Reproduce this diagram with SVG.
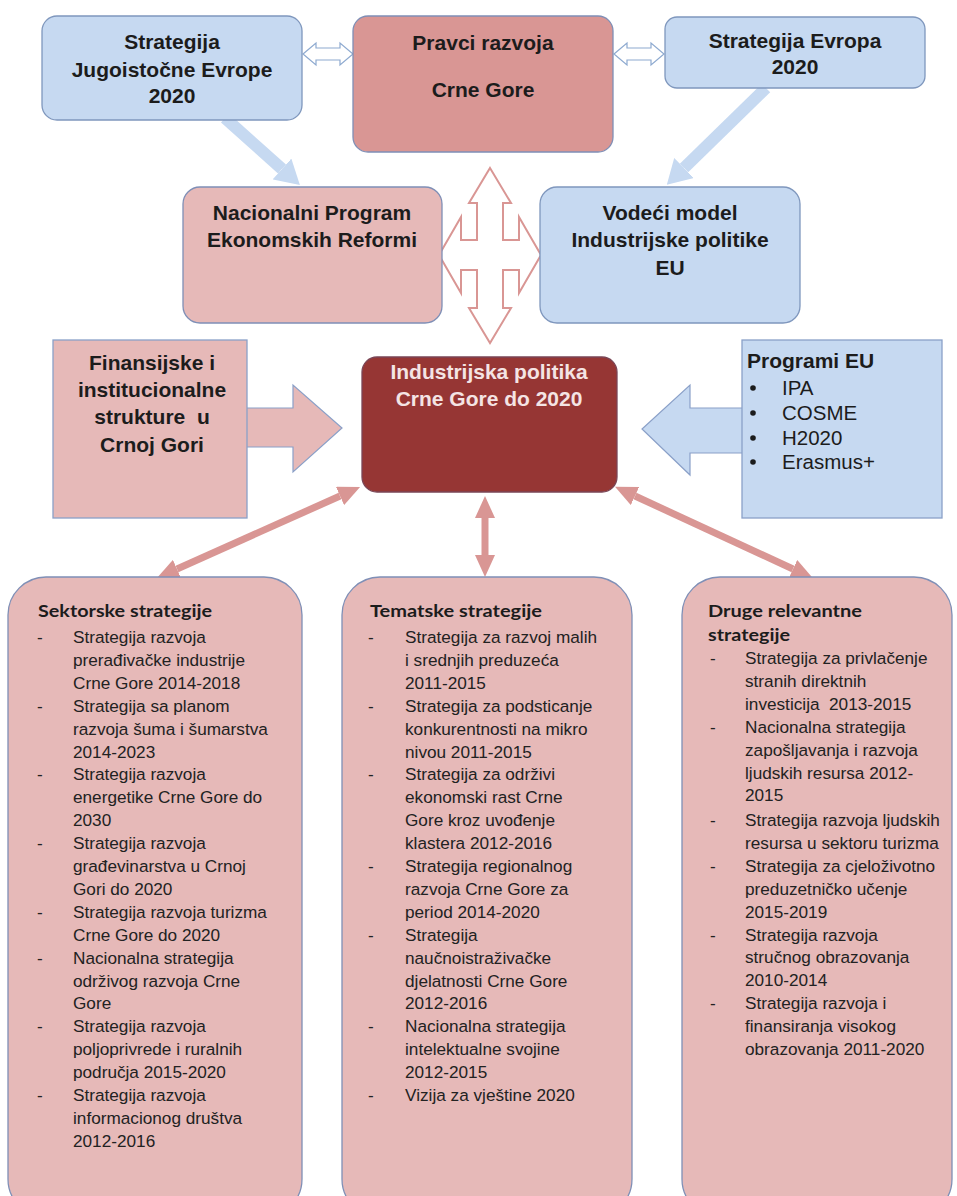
<svg xmlns="http://www.w3.org/2000/svg" width="957" height="1196" viewBox="0 0 957 1196">
<defs>
<style>
.blue{fill:#c6d9f1;stroke:#7f97bd;stroke-width:1.3}
.pink{fill:#e6b9b8;stroke:#7f8fb6;stroke-width:1.3}
.pinkdk{fill:#d99694;stroke:#7f8fb6;stroke-width:1.3}
.red{fill:#963634;stroke:#7a4656;stroke-width:1.3}
.h{font-family:"Liberation Sans",Arial,sans-serif;font-weight:bold;font-size:21px;fill:#1c1c1c;text-anchor:middle}
.hw{fill:#f4e4e4}
.pl{font-family:"Liberation Sans",Arial,sans-serif;font-size:20.5px;fill:#1c1c1c}
.li{font-family:"Liberation Sans",Arial,sans-serif;font-size:17.2px;fill:#222}
.t{font-family:Lato,"Liberation Sans",sans-serif;font-weight:bold;font-size:17.5px;fill:#1c1c1c}
.conn{stroke:#d99694;stroke-width:7;fill:none}
.bl{stroke:#c6d9f1;stroke-width:12;fill:none}
.hollowb{fill:#fff;stroke:#8eaad0;stroke-width:1.2}
.hollowp{fill:#fff;stroke:#d99694;stroke-width:2}
.blk-p{fill:#e6b9b8;stroke:#8aa0c8;stroke-width:1.2}
.blk-b{fill:#c6d9f1;stroke:#8aa0c8;stroke-width:1.2}
</style>
<marker id="ah" markerUnits="userSpaceOnUse" markerWidth="22" markerHeight="20" viewBox="0 0 22 20" refX="0" refY="10" orient="auto-start-reverse">
<path d="M0,0 L22,10 L0,20 Z" fill="#d99694"/>
</marker>
<marker id="bh" markerUnits="userSpaceOnUse" markerWidth="24" markerHeight="28" viewBox="0 0 24 28" refX="0" refY="14" orient="auto">
<path d="M0,0 L24,14 L0,28 Z" fill="#c6d9f1"/>
</marker>
</defs>
<rect width="957" height="1196" fill="#fff"/>

<g id="connectors">
<polygon class="hollowb" points="303,54 316,43 316,48 340,48 340,43 353,54 340,65 340,60 316,60 316,65"/>
<polygon class="hollowb" points="614,54 627,43 627,48 651,48 651,43 664,54 651,65 651,60 627,60 627,65"/>
<line class="bl" x1="225" y1="118" x2="282" y2="169" marker-end="url(#bh)"/>
<line class="bl" x1="766" y1="88" x2="684" y2="168" marker-end="url(#bh)"/>
<polygon class="hollowp" points="490,168 511,203 503,203 503,240 519,240 519,217 541,255 519,293 519,270 503,270 503,308 511,308 490,343 469,308 477,308 477,270 461,270 461,293 439,255 461,217 461,240 477,240 477,203 469,203"/>
<polygon class="blk-p" points="240,408 293,408 293,385 342,428 293,472 293,447 240,447"/>
<polygon class="blk-b" points="750,408 690,408 690,385 642,429 690,475 690,453 750,453"/>
<line class="conn" x1="340" y1="496" x2="177" y2="569" marker-start="url(#ah)" marker-end="url(#ah)"/>
<line class="conn" x1="485" y1="518" x2="485" y2="555" marker-start="url(#ah)" marker-end="url(#ah)"/>
<line class="conn" x1="635" y1="496" x2="793" y2="569" marker-start="url(#ah)" marker-end="url(#ah)"/>
</g>

<g id="n-jugoistocna">
<rect class="blue" x="42" y="16" width="260" height="104" rx="15"/>
<text class="h" x="172" y="49">Strategija</text>
<text class="h" x="172" y="77">Jugoistočne Evrope</text>
<text class="h" x="172" y="103">2020</text>
</g>

<g id="n-pravci">
<rect class="pinkdk" x="353" y="16" width="260" height="136" rx="15"/>
<text class="h" x="483" y="50">Pravci razvoja</text>
<text class="h" x="483" y="97">Crne Gore</text>
</g>

<g id="n-evropa">
<rect class="blue" x="665" y="17" width="260" height="71" rx="12"/>
<text class="h" x="795" y="48">Strategija Evropa</text>
<text class="h" x="795" y="74">2020</text>
</g>

<g id="n-nacionalni">
<rect class="pink" x="183" y="187" width="259" height="136" rx="17"/>
<text class="h" x="312" y="220">Nacionalni Program</text>
<text class="h" x="312" y="247">Ekonomskih Reformi</text>
</g>

<g id="n-vodeci">
<rect class="blue" x="540" y="187" width="260" height="136" rx="17"/>
<text class="h" x="670" y="220">Vodeći model</text>
<text class="h" x="670" y="247">Industrijske politike</text>
<text class="h" x="670" y="275">EU</text>
</g>

<g id="n-finansijske">
<rect class="pink" x="53" y="340" width="194" height="178" style="stroke:#8aa0c8"/>
<text class="h" x="152" y="370">Finansijske i</text>
<text class="h" x="152" y="397">institucionalne</text>
<text class="h" x="152" y="424" xml:space="preserve">strukture  u</text>
<text class="h" x="152" y="452">Crnoj Gori</text>
</g>

<g id="n-industrijska">
<rect class="red" x="362" y="357" width="255" height="135" rx="15"/>
<text class="h hw" x="489" y="379">Industrijska politika</text>
<text class="h hw" x="489" y="406">Crne Gore do 2020</text>
</g>

<g id="n-programi">
<rect class="blue" x="742" y="340" width="200" height="178" rx="0" style="stroke:#8aa0c8"/>
<text class="h" x="747" y="368" style="text-anchor:start">Programi EU</text>
<circle cx="753" cy="388" r="2.8" fill="#1c1c1c"/>
<circle cx="753" cy="413" r="2.8" fill="#1c1c1c"/>
<circle cx="753" cy="438" r="2.8" fill="#1c1c1c"/>
<circle cx="753" cy="462" r="2.8" fill="#1c1c1c"/>
<text class="pl" x="782" y="395">IPA</text>
<text class="pl" x="782" y="420">COSME</text>
<text class="pl" x="782" y="445">H2020</text>
<text class="pl" x="782" y="469">Erasmus+</text>
</g>

<g id="n-sektorske">
<rect class="pink" x="8" y="577" width="294" height="640" rx="38"/>
<text class="t" x="38" y="617" textLength="174" lengthAdjust="spacingAndGlyphs">Sektorske strategije</text>
<text class="li">
<tspan x="37" y="643">-</tspan><tspan x="73" y="643">Strategija razvoja</tspan>
<tspan x="73" y="665.9">prerađivačke industrije</tspan>
<tspan x="73" y="688.8">Crne Gore 2014-2018</tspan>
<tspan x="37" y="711.7">-</tspan><tspan x="73" y="711.7">Strategija sa planom</tspan>
<tspan x="73" y="734.6">razvoja šuma i šumarstva</tspan>
<tspan x="73" y="757.5">2014-2023</tspan>
<tspan x="37" y="780.4">-</tspan><tspan x="73" y="780.4">Strategija razvoja</tspan>
<tspan x="73" y="803.3">energetike Crne Gore do</tspan>
<tspan x="73" y="826.2">2030</tspan>
<tspan x="37" y="849.1">-</tspan><tspan x="73" y="849.1">Strategija razvoja</tspan>
<tspan x="73" y="872">građevinarstva u Crnoj</tspan>
<tspan x="73" y="894.9">Gori do 2020</tspan>
<tspan x="37" y="917.8">-</tspan><tspan x="73" y="917.8">Strategija razvoja turizma</tspan>
<tspan x="73" y="940.7">Crne Gore do 2020</tspan>
<tspan x="37" y="963.6">-</tspan><tspan x="73" y="963.6">Nacionalna strategija</tspan>
<tspan x="73" y="986.5">održivog razvoja Crne</tspan>
<tspan x="73" y="1009.4">Gore</tspan>
<tspan x="37" y="1032.3">-</tspan><tspan x="73" y="1032.3">Strategija razvoja</tspan>
<tspan x="73" y="1055.2">poljoprivrede i ruralnih</tspan>
<tspan x="73" y="1078.1">područja 2015-2020</tspan>
<tspan x="37" y="1101">-</tspan><tspan x="73" y="1101">Strategija razvoja</tspan>
<tspan x="73" y="1123.9">informacionog društva</tspan>
<tspan x="73" y="1146.8">2012-2016</tspan>
</text>
</g>

<g id="n-tematske">
<rect class="pink" x="342" y="577" width="290" height="640" rx="38"/>
<text class="t" x="370" y="617" textLength="172" lengthAdjust="spacingAndGlyphs">Tematske strategije</text>
<text class="li">
<tspan x="368" y="643">-</tspan><tspan x="405" y="643">Strategija za razvoj malih</tspan>
<tspan x="405" y="665.9">i srednjih preduzeća</tspan>
<tspan x="405" y="688.8">2011-2015</tspan>
<tspan x="368" y="711.7">-</tspan><tspan x="405" y="711.7">Strategija za podsticanje</tspan>
<tspan x="405" y="734.6">konkurentnosti na mikro</tspan>
<tspan x="405" y="757.5">nivou 2011-2015</tspan>
<tspan x="368" y="780.4">-</tspan><tspan x="405" y="780.4">Strategija za održivi</tspan>
<tspan x="405" y="803.3">ekonomski rast Crne</tspan>
<tspan x="405" y="826.2">Gore kroz uvođenje</tspan>
<tspan x="405" y="849.1">klastera 2012-2016</tspan>
<tspan x="368" y="872">-</tspan><tspan x="405" y="872">Strategija regionalnog</tspan>
<tspan x="405" y="894.9">razvoja Crne Gore za</tspan>
<tspan x="405" y="917.8">period 2014-2020</tspan>
<tspan x="368" y="940.7">-</tspan><tspan x="405" y="940.7">Strategija</tspan>
<tspan x="405" y="963.6">naučnoistraživačke</tspan>
<tspan x="405" y="986.5">djelatnosti Crne Gore</tspan>
<tspan x="405" y="1009.4">2012-2016</tspan>
<tspan x="368" y="1032.3">-</tspan><tspan x="405" y="1032.3">Nacionalna strategija</tspan>
<tspan x="405" y="1055.2">intelektualne svojine</tspan>
<tspan x="405" y="1078.1">2012-2015</tspan>
<tspan x="368" y="1101">-</tspan><tspan x="405" y="1101">Vizija za vještine 2020</tspan>
</text>
</g>

<g id="n-druge">
<rect class="pink" x="682" y="577" width="270" height="640" rx="38"/>
<text class="t" x="708" y="617" textLength="154" lengthAdjust="spacingAndGlyphs">Druge relevantne</text>
<text class="t" x="708" y="641" textLength="82" lengthAdjust="spacingAndGlyphs">strategije</text>
<text class="li">
<tspan x="710" y="664">-</tspan><tspan x="745" y="664">Strategija za privlačenje</tspan>
<tspan x="745" y="686.9">stranih direktnih</tspan>
<tspan x="745" y="709.8" xml:space="preserve">investicija  2013-2015</tspan>
<tspan x="710" y="732.7">-</tspan><tspan x="745" y="732.7">Nacionalna strategija</tspan>
<tspan x="745" y="755.6">zapošljavanja i razvoja</tspan>
<tspan x="745" y="778.5">ljudskih resursa 2012-</tspan>
<tspan x="745" y="801.4">2015</tspan>
<tspan x="710" y="826">-</tspan><tspan x="745" y="826">Strategija razvoja ljudskih</tspan>
<tspan x="745" y="848.9">resursa u sektoru turizma</tspan>
<tspan x="710" y="871.8">-</tspan><tspan x="745" y="871.8">Strategija za cjeloživotno</tspan>
<tspan x="745" y="894.7">preduzetničko učenje</tspan>
<tspan x="745" y="917.6">2015-2019</tspan>
<tspan x="710" y="940.5">-</tspan><tspan x="745" y="940.5">Strategija razvoja</tspan>
<tspan x="745" y="963.4">stručnog obrazovanja</tspan>
<tspan x="745" y="986.3">2010-2014</tspan>
<tspan x="710" y="1009.2">-</tspan><tspan x="745" y="1009.2">Strategija razvoja i</tspan>
<tspan x="745" y="1032.1">finansiranja visokog</tspan>
<tspan x="745" y="1055">obrazovanja 2011-2020</tspan>
</text>
</g>
</svg>
